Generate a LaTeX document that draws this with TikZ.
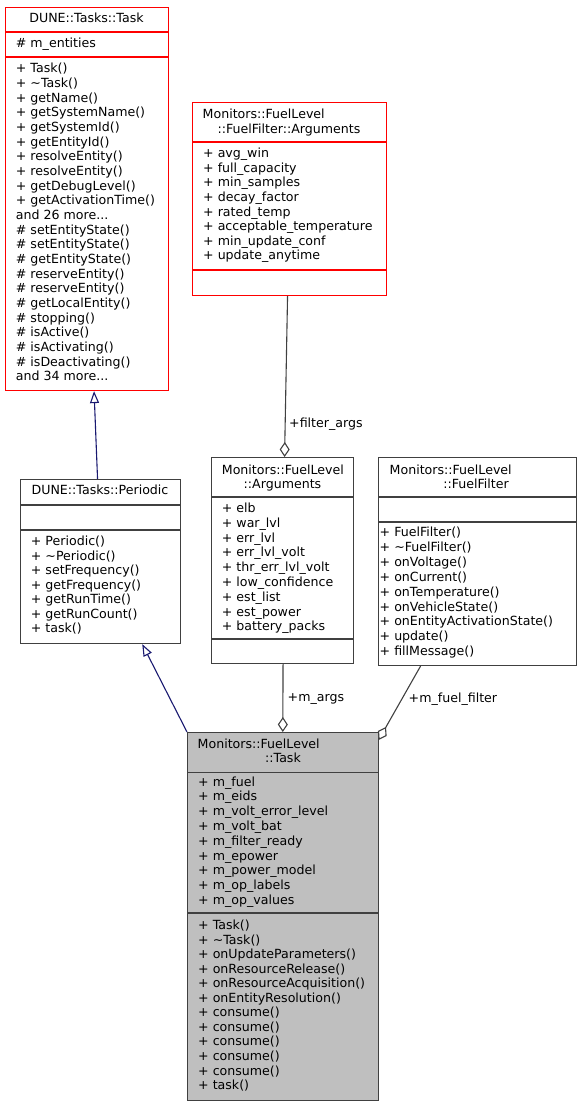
\documentclass[tikz,border=0pt]{standalone}
\usepackage{fontspec}
\setmainfont{DejaVu Sans}
\usetikzlibrary{arrows.meta}
\definecolor{navyline}{HTML}{191970}
\definecolor{edgegray}{HTML}{404040}
\definecolor{boxgray}{HTML}{BFBFBF}
\newcommand\mydots{...}
\begin{document}
\begin{tikzpicture}[x=1pt,y=-1pt,
  txt/.style={inner sep=0pt, font=\fontsize{12.6}{15}\selectfont, text=black},
  redbox/.style={draw=red, fill=white, line width=1.1pt, inner sep=0pt, anchor=north west},
  blkbox/.style={draw=edgegray, fill=white, line width=1.1pt, inner sep=0pt, anchor=north west},
  graybox/.style={draw=edgegray, fill=boxgray, line width=1.1pt, inner sep=0pt, anchor=north west},
  reddiv/.style={draw=red, line width=1.1pt},
  blkdiv/.style={draw=edgegray, line width=1.1pt},
  inh/.style={draw=navyline, line width=1.1pt, -{Triangle[length=12pt,width=9pt,fill=white]}},
  agg/.style={draw=edgegray, line width=1.1pt, -{Diamond[length=15pt,width=10pt,fill=white]}}]
\useasboundingbox (0,0) rectangle (581,1107);

% ---------------- DUNE::Tasks::Task
\node[redbox, minimum width=163pt, minimum height=383pt] (dune) at (5,7) {};
\draw[reddiv] (dune.west |- 0,32) -- (dune.east |- 0,32);
\draw[reddiv] (dune.west |- 0,57) -- (dune.east |- 0,57);
\node[txt, anchor=base] (dunet) at (86.5,23) {DUNE::Tasks::Task};
\node[txt, anchor=base west] (dunea) at (15.7,47.5) {\# m\_entities};
\foreach \lbl [count=\i from 0] in {+ Task(), + \textasciitilde Task(), + getName(), + getSystemName(), + getSystemId(), + getEntityId(), + resolveEntity(), + resolveEntity(), + getDebugLevel(), + getActivationTime(), and 26 more\mydots, \# setEntityState(), \# setEntityState(), \# getEntityState(), \# reserveEntity(), \# reserveEntity(), \# getLocalEntity(), \# stopping(), \# isActive(), \# isActivating(), \# isDeactivating(), and 34 more\mydots}
  \node[txt, anchor=base west] (dunem\i) at (15.7, 72.8+\i*14.67) {\lbl};

% ---------------- Monitors::FuelLevel::FuelFilter::Arguments
\node[redbox, minimum width=194pt, minimum height=193pt] (ffa) at (192,102) {};
\draw[reddiv] (ffa.west |- 0,142) -- (ffa.east |- 0,142);
\draw[reddiv] (ffa.west |- 0,270) -- (ffa.east |- 0,270);
\node[txt, anchor=base west] (ffat1) at (202.5,118.3) {Monitors::FuelLevel};
\node[txt, anchor=base] (ffat2) at (289,133.3) {::FuelFilter::Arguments};
\foreach \lbl [count=\i from 0] in {+ avg\_win, + full\_capacity, + min\_samples, + decay\_factor, + rated\_temp, + acceptable\_temperature, + min\_update\_conf, + update\_anytime}
  \node[txt, anchor=base west] (ffaa\i) at (203, 157.5+\i*14.64) {\lbl};

% ---------------- DUNE::Tasks::Periodic
\node[blkbox, minimum width=160pt, minimum height=164pt] (periodic) at (20,479) {};
\draw[blkdiv] (periodic.west |- 0,505) -- (periodic.east |- 0,505);
\draw[blkdiv] (periodic.west |- 0,530) -- (periodic.east |- 0,530);
\node[txt, anchor=base] (periodict) at (100,494.5) {DUNE::Tasks::Periodic};
\foreach \lbl [count=\i from 0] in {+ Periodic(), + \textasciitilde Periodic(), + setFrequency(), + getFrequency(), + getRunTime(), + getRunCount(), + task()}
  \node[txt, anchor=base west] (periodicm\i) at (30.7, 545.5+\i*14.5) {\lbl};

% ---------------- Monitors::FuelLevel::Arguments
\node[blkbox, minimum width=142pt, minimum height=206pt] (fa) at (211,457) {};
\draw[blkdiv] (fa.west |- 0,497) -- (fa.east |- 0,497);
\draw[blkdiv] (fa.west |- 0,639) -- (fa.east |- 0,639);
\node[txt, anchor=base west] (fat1) at (221.7,474) {Monitors::FuelLevel};
\node[txt, anchor=base] (fat2) at (282.5,488) {::Arguments};
\foreach \lbl [count=\i from 0] in {+ elb, + war\_lvl, + err\_lvl, + err\_lvl\_volt, + thr\_err\_lvl\_volt, + low\_confidence, + est\_list, + est\_power, + battery\_packs}
  \node[txt, anchor=base west] (faa\i) at (221.7, 512.5+\i*14.8) {\lbl};

% ---------------- Monitors::FuelLevel::FuelFilter
\node[blkbox, minimum width=198pt, minimum height=208pt] (ff) at (378,457) {};
\draw[blkdiv] (ff.west |- 0,497) -- (ff.east |- 0,497);
\draw[blkdiv] (ff.west |- 0,522) -- (ff.east |- 0,522);
\node[txt, anchor=base west] (fft1) at (389.5,474.5) {Monitors::FuelLevel};
\node[txt, anchor=base] (fft2) at (476,488.5) {::FuelFilter};
\foreach \lbl [count=\i from 0] in {+ FuelFilter(), + \textasciitilde FuelFilter(), + onVoltage(), + onCurrent(), + onTemperature(), + onVehicleState(), + onEntityActivationState(), + update(), + fillMessage()}
  \node[txt, anchor=base west] (ffm\i) at (379.5, 536.5+\i*14.9) {\lbl};

% ---------------- Monitors::FuelLevel::Task
\node[graybox, minimum width=190.5pt, minimum height=368pt] (task) at (187,732) {};
\draw[blkdiv] (task.west |- 0,772.3) -- (task.east |- 0,772.3);
\draw[blkdiv] (task.west |- 0,913) -- (task.east |- 0,913);
\node[txt, anchor=base west] (taskt1) at (197.5,748.3) {Monitors::FuelLevel};
\node[txt, anchor=base] (taskt2) at (283,762.3) {::Task};
\foreach \lbl [count=\i from 0] in {+ m\_fuel, + m\_eids, + m\_volt\_error\_level, + m\_volt\_bat, + m\_filter\_ready, + m\_epower, + m\_power\_model, + m\_op\_labels, + m\_op\_values}
  \node[txt, anchor=base west] (taska\i) at (198, 786+\i*14.8) {\lbl};
\foreach \lbl [count=\i from 0] in {+ Task(), + \textasciitilde Task(), + onUpdateParameters(), + onResourceRelease(), + onResourceAcquisition(), + onEntityResolution(), + consume(), + consume(), + consume(), + consume(), + consume(), + task()}
  \node[txt, anchor=base west] (taskm\i) at (198, 929.5+\i*14.55) {\lbl};

% ---------------- connectors
\draw[inh] ([xshift=-3pt]periodic.north) -- ([xshift=7pt]dune.south);
\draw[inh] (task.north west) -- ([xshift=41.7pt]periodic.south);
\draw[agg] ([xshift=-2pt]ffa.south) -- ([xshift=2pt]fa.north);
\draw[agg] ([xshift=0.5pt]fa.south) -- (task.north);
\draw[agg] ([xshift=-57pt]ff.south) -- ([yshift=-8pt]task.north east);

% ---------------- connector labels
\node[txt, anchor=base west] (lfilter) at (289,427) {+filter\_args};
\node[txt, anchor=base west] (largs) at (287.5,701) {+m\_args};
\node[txt, anchor=base west] (lfuel) at (408.5,702.5) {+m\_fuel\_filter};
\end{tikzpicture}
\end{document}
